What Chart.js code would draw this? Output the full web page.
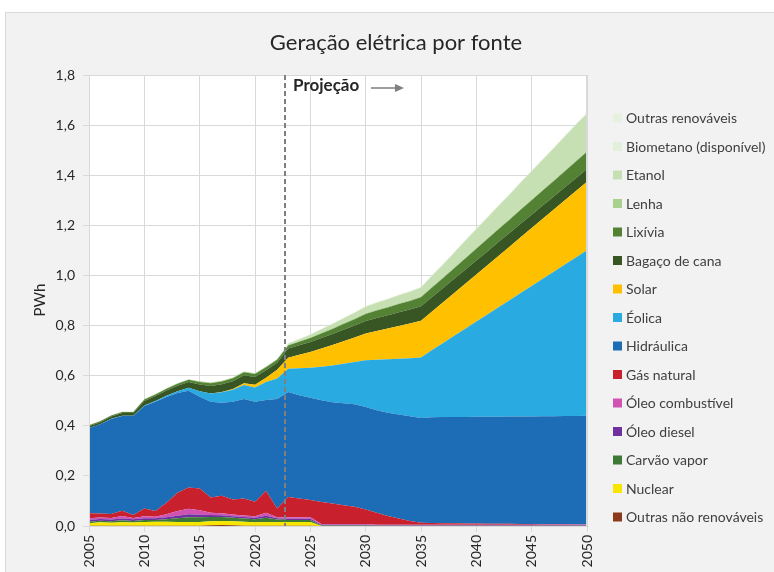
<!DOCTYPE html>
<html>
<head>
<meta charset="utf-8">
<script src="https://cdn.jsdelivr.net/npm/chart.js"></script>
<style>
  html, body { margin: 0; padding: 0; background: #fff; overflow: hidden; }
  #panel { position: absolute; left: 5px; top: 12px; width: 780px; height: 580px; background: #f2f2f2; border: 1px solid #d9d9d9; }
  #geracao { position: absolute; left: 0; top: 0; }
</style>
</head>
<body>
<div id="panel"></div>
<canvas id="geracao" width="774" height="572"></canvas>
<script>
// anos 2005..2050 (historico ate 2022, projecao depois)
const anos = [2005, 2006, 2007, 2008, 2009, 2010, 2011, 2012, 2013, 2014, 2015, 2016, 2017, 2018, 2019, 2020,
  2021, 2022, 2023, 2024, 2025, 2026, 2027, 2028, 2029, 2030, 2031, 2032, 2033, 2034, 2035, 2036, 2037, 2038,
  2039, 2040, 2041, 2042, 2043, 2044, 2045, 2046, 2047, 2048, 2049, 2050];

const yTicks = [0, 0.2, 0.4, 0.6, 0.8, 1.0, 1.2, 1.4, 1.6, 1.8];

// PWh por fonte (empilhado, de baixo para cima)
const outrasNaoRenov = [0.001, 0.001, 0.001, 0.001, 0.001, 0.001, 0.001, 0.001, 0.001, 0.001, 0.001, 0.003, 0.004, 0.003, 0.001, 0.001,
  0.001, 0.001, 0.001, 0.001, 0.001, 0, 0, 0, 0, 0, 0, 0, 0, 0, 0, 0, 0, 0, 0, 0, 0, 0, 0, 0, 0, 0, 0, 0, 0, 0];
const nuclear = [0.010, 0.014, 0.012, 0.014, 0.013, 0.015, 0.016, 0.016, 0.015, 0.015, 0.015, 0.016, 0.016, 0.016, 0.016, 0.014,
  0.015, 0.015, 0.015, 0.015, 0.015, 0, 0, 0, 0, 0, 0, 0, 0, 0, 0, 0, 0, 0, 0, 0, 0, 0, 0, 0, 0, 0, 0, 0, 0, 0];
const carvao = [0.006, 0.006, 0.006, 0.008, 0.006, 0.008, 0.007, 0.010, 0.015, 0.019, 0.019, 0.017, 0.016, 0.014, 0.013, 0.012,
  0.017, 0.010, 0.008, 0.008, 0.008, 0.002, 0.002, 0.002, 0.002, 0.002, 0.001, 0.001, 0.001, 0.001, 0.001, 0.001, 0.001, 0.001,
  0.001, 0.001, 0.001, 0.001, 0.001, 0.001, 0.001, 0.001, 0.001, 0.001, 0.001, 0.001];
const oleoDiesel = [0.007, 0.007, 0.007, 0.007, 0.007, 0.007, 0.007, 0.008, 0.010, 0.012, 0.010, 0.008, 0.007, 0.006, 0.006, 0.006,
  0.008, 0.005, 0.005, 0.005, 0.005, 0.003, 0.003, 0.003, 0.003, 0.003, 0.002, 0.002, 0.002, 0.002, 0.002, 0.002, 0.002, 0.002,
  0.002, 0.002, 0.002, 0.002, 0.002, 0.002, 0.002, 0.002, 0.002, 0.002, 0.002, 0.002];
const oleoComb = [0.007, 0.006, 0.006, 0.010, 0.005, 0.008, 0.006, 0.012, 0.019, 0.022, 0.018, 0.009, 0.008, 0.007, 0.006, 0.006,
  0.012, 0.004, 0.006, 0.006, 0.006, 0.003, 0.003, 0.003, 0.003, 0.003, 0.002, 0.002, 0.002, 0.002, 0.002, 0.002, 0.002, 0.002,
  0.002, 0.002, 0.002, 0.002, 0.002, 0.002, 0.002, 0.002, 0.002, 0.002, 0.002, 0.002];
const gasNatural = [0.020, 0.016, 0.016, 0.021, 0.012, 0.031, 0.023, 0.046, 0.073, 0.085, 0.087, 0.061, 0.070, 0.060, 0.068, 0.058,
  0.088, 0.035, 0.081, 0.075, 0.069, 0.088, 0.082, 0.075, 0.069, 0.058, 0.048, 0.035, 0.025, 0.015, 0.008, 0.007, 0.006, 0.006,
  0.005, 0.005, 0.004, 0.004, 0.004, 0.003, 0.003, 0.002, 0.002, 0.002, 0.001, 0.001];
const hidraulica = [0.340, 0.356, 0.379, 0.378, 0.395, 0.409, 0.436, 0.422, 0.398, 0.386, 0.366, 0.382, 0.371, 0.390, 0.397, 0.399,
  0.362, 0.437, 0.419, 0.412, 0.408, 0.406, 0.404, 0.407, 0.409, 0.409, 0.409, 0.412, 0.415, 0.418, 0.418, 0.422, 0.424, 0.424,
  0.425, 0.426, 0.427, 0.427, 0.428, 0.429, 0.429, 0.431, 0.431, 0.432, 0.433, 0.434];
const eolica = [0, 0, 0.001, 0.001, 0.001, 0.002, 0.003, 0.005, 0.007, 0.012, 0.022, 0.033, 0.042, 0.048, 0.056, 0.057,
  0.072, 0.082, 0.093, 0.108, 0.120, 0.134, 0.147, 0.158, 0.169, 0.187, 0.202, 0.214, 0.223, 0.232, 0.242, 0.268, 0.295, 0.324,
  0.352, 0.380, 0.408, 0.437, 0.464, 0.493, 0.521, 0.549, 0.577, 0.605, 0.633, 0.661];
const solar = [0, 0, 0, 0, 0, 0, 0, 0, 0, 0, 0, 0, 0.001, 0.003, 0.007, 0.011,
  0.017, 0.035, 0.044, 0.053, 0.062, 0.072, 0.081, 0.089, 0.097, 0.106, 0.114, 0.122, 0.130, 0.138, 0.146, 0.154, 0.163, 0.171,
  0.180, 0.188, 0.197, 0.205, 0.214, 0.222, 0.231, 0.239, 0.248, 0.256, 0.265, 0.273];
const bagaco = [0.007, 0.008, 0.009, 0.011, 0.011, 0.018, 0.020, 0.021, 0.022, 0.023, 0.027, 0.030, 0.031, 0.031, 0.032, 0.031,
  0.030, 0.028, 0.036, 0.038, 0.040, 0.042, 0.044, 0.046, 0.048, 0.050, 0.052, 0.053, 0.055, 0.056, 0.058, 0.058, 0.057, 0.057,
  0.056, 0.056, 0.055, 0.055, 0.054, 0.054, 0.053, 0.053, 0.052, 0.052, 0.051, 0.051];
const lixivia = [0.004, 0.004, 0.004, 0.004, 0.004, 0.006, 0.006, 0.007, 0.008, 0.009, 0.010, 0.011, 0.011, 0.012, 0.012, 0.012,
  0.012, 0.012, 0.012, 0.014, 0.016, 0.018, 0.020, 0.023, 0.025, 0.028, 0.030, 0.031, 0.033, 0.034, 0.036, 0.038, 0.040, 0.042,
  0.045, 0.047, 0.049, 0.051, 0.053, 0.056, 0.058, 0.060, 0.062, 0.064, 0.067, 0.069];
const lenha = [0.001, 0.001, 0.001, 0.001, 0.001, 0.002, 0.002, 0.002, 0.002, 0.002, 0.003, 0.003, 0.003, 0.003, 0.003, 0.003,
  0.003, 0.003, 0.003, 0.003, 0.003, 0.004, 0.004, 0.004, 0.004, 0.004, 0.004, 0.004, 0.004, 0.004, 0.004, 0.004, 0.004, 0.004,
  0.004, 0.004, 0.004, 0.004, 0.004, 0.004, 0.004, 0.004, 0.004, 0.004, 0.004, 0.004];
const etanol = [0, 0, 0, 0, 0, 0, 0, 0, 0, 0, 0, 0, 0, 0, 0, 0,
  0, 0, 0.004, 0.007, 0.010, 0.013, 0.016, 0.019, 0.022, 0.025, 0.027, 0.029, 0.031, 0.033, 0.035, 0.043, 0.050, 0.058,
  0.066, 0.073, 0.081, 0.089, 0.096, 0.104, 0.112, 0.119, 0.127, 0.135, 0.142, 0.147];
const biometano = [0, 0, 0, 0, 0, 0, 0, 0, 0, 0, 0, 0, 0, 0, 0, 0,
  0, 0, 0.001, 0.001, 0.001, 0.001, 0.001, 0.001, 0.001, 0.002, 0.002, 0.002, 0.002, 0.002, 0.002, 0.002, 0.002, 0.002,
  0.002, 0.003, 0.003, 0.003, 0.003, 0.003, 0.003, 0.003, 0.003, 0.003, 0.003, 0.003];
const outrasRenov = [0, 0, 0, 0, 0, 0, 0, 0, 0, 0, 0, 0, 0, 0, 0, 0,
  0, 0, 0.001, 0.001, 0.001, 0.001, 0.001, 0.001, 0.001, 0.001, 0.001, 0.001, 0.001, 0.001, 0.001, 0.001, 0.001, 0.001,
  0.001, 0.001, 0.001, 0.001, 0.001, 0.001, 0.001, 0.001, 0.001, 0.001, 0.001, 0.001];

const fontes = [
  ['Outras não renováveis', outrasNaoRenov, '#8b3b1b'],
  ['Nuclear', nuclear, '#f7e600'],
  ['Carvão vapor', carvao, '#3d7a35'],
  ['Óleo diesel', oleoDiesel, '#7030a0'],
  ['Óleo combustível', oleoComb, '#d052b2'],
  ['Gás natural', gasNatural, '#c8202c'],
  ['Hidráulica', hidraulica, '#1c6cb6'],
  ['Éolica', eolica, '#29abe2'],
  ['Solar', solar, '#ffc000'],
  ['Bagaço de cana', bagaco, '#375623'],
  ['Lixívia', lixivia, '#548235'],
  ['Lenha', lenha, '#a9d18e'],
  ['Etanol', etanol, '#c6e0b4'],
  ['Biometano (disponível)', biometano, '#e2efda'],
  ['Outras renováveis', outrasRenov, '#e6f2df']
];

const FONT = 'Lato, "Noto Sans", sans-serif';
const inicioProjecao = 2022.75;

var datasets = fontes.map(function (f, i) {
  return {
    label: f[0],
    data: anos.map(function (a, j) { return { x: a, y: f[1][j] }; }),
    backgroundColor: f[2],
    borderColor: 'transparent',
    borderWidth: 0,
    pointRadius: 0,
    fill: i === 0 ? 'origin' : '-1',
    tension: 0
  };
});

const extras = {
  id: 'extras',
  beforeDraw(chart) {
    const c = chart.ctx, a = chart.chartArea;
    c.save();
    c.fillStyle = '#ffffff';
    c.fillRect(a.left, a.top, a.right - a.left, a.bottom - a.top);
    c.restore();
  },
  afterDatasetsDraw(chart) {
    const c = chart.ctx, a = chart.chartArea;
    const xs = chart.scales.x;
    c.save();
    // borda da area
    c.strokeStyle = '#d9d9d9';
    c.lineWidth = 1;
    c.strokeRect(a.left + 0.5, a.top + 0.5, a.right - a.left - 1, a.bottom - a.top);
    // linha tracejada
    const px = Math.round(xs.getPixelForValue(inicioProjecao));
    c.strokeStyle = '#7f7f7f';
    c.lineWidth = 2;
    c.setLineDash([5, 3]);
    c.beginPath();
    c.moveTo(px, a.top);
    c.lineTo(px, a.bottom);
    c.stroke();
    c.setLineDash([]);
    // Projeção + seta
    c.fillStyle = '#262626';
    c.font = 'bold 17px ' + FONT;
    c.textAlign = 'left';
    c.textBaseline = 'middle';
    c.fillText('Projeção', px + 8, 86);
    c.strokeStyle = '#7f7f7f';
    c.lineWidth = 1.5;
    c.beginPath();
    c.moveTo(371, 88);
    c.lineTo(396, 88);
    c.stroke();
    c.fillStyle = '#7f7f7f';
    c.beginPath();
    c.moveTo(404, 88);
    c.lineTo(395, 84);
    c.lineTo(395, 92);
    c.closePath();
    c.fill();
    // titulo
    c.fillStyle = '#262626';
    c.font = '22px ' + FONT;
    c.textAlign = 'center';
    c.fillText('Geração elétrica por fonte', 396, 43);
    // eixo y
    c.save();
    c.translate(40, 300);
    c.rotate(-Math.PI / 2);
    c.font = '15px ' + FONT;
    c.fillText('PWh', 0, 0);
    c.restore();
    // legenda
    c.font = '14px ' + FONT;
    c.textAlign = 'left';
    const ds = chart.data.datasets;
    for (let k = 0; k < ds.length; k++) {
      const d = ds[ds.length - 1 - k];
      const y = 118 + k * 28.5;
      c.fillStyle = d.backgroundColor;
      c.fillRect(613, y - 4.5, 9, 9);
      c.fillStyle = '#404040';
      c.fillText(d.label, 626, y + 0.5);
    }
    c.restore();
  }
};

var grafico = new Chart(document.getElementById('geracao'), {
  type: 'line',
  data: { datasets: datasets },
  options: {
    responsive: false,
    animation: false,
    devicePixelRatio: 1,
    layout: { padding: { top: 75, right: 187, bottom: 0, left: 0 } },
    plugins: { legend: { display: false }, tooltip: { enabled: false }, title: { display: false } },
    scales: {
      x: {
        type: 'linear', min: 2005, max: 2050,
        afterFit: function (s) { s.height = 46; },
        afterBuildTicks: function (s) { s.ticks = anos.filter(function (a) { return a % 5 === 0; }).map(function (v) { return { value: v }; }); },
        ticks: {
          autoSkip: false, minRotation: 90, maxRotation: 90, padding: 3,
          color: '#262626', font: { family: FONT, size: 14 },
          callback: function (v) { return String(v); }
        },
        grid: { color: '#d9d9d9', tickLength: 6 },
        border: { color: '#bfbfbf' }
      },
      y: {
        stacked: true, min: 0, max: 1.8,
        afterFit: function (s) { s.width = 89; },
        afterBuildTicks: function (s) { s.ticks = yTicks.map(function (v) { return { value: v }; }); },
        ticks: {
          padding: 8, color: '#262626', font: { family: FONT, size: 14 },
          callback: function (v) { return v.toFixed(1).replace('.', ','); }
        },
        grid: { color: '#d9d9d9', tickLength: 6 },
        border: { display: false }
      }
    }
  },
  plugins: [extras]
});
</script>
</body>
</html>
